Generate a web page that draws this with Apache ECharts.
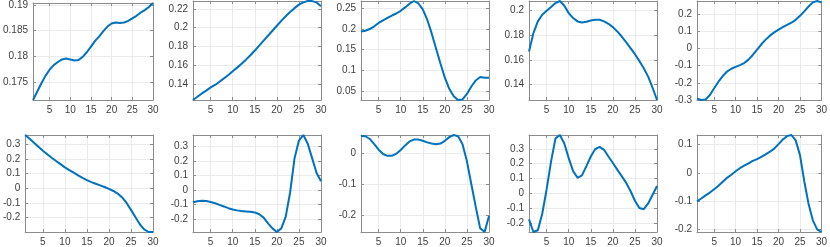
<!DOCTYPE html>
<html>
<head>
<meta charset="utf-8">
<script src="https://cdn.jsdelivr.net/npm/echarts@6/dist/echarts.min.js"></script>
<style>html,body{margin:0;padding:0;background:#fff}#c{width:830px;height:247px}</style>
</head>
<body>
<div id="c"></div>
<script>
// x positions 1..30
var xs = [];
for (var i = 1; i <= 30; i++) xs.push(i);
var xTicks = [5, 10, 15, 20, 25, 30];

var s1 = [0.1715,0.1731,0.1747,0.1762,0.1774,0.1783,0.1789,0.1794,0.1796,0.1794,0.1792,0.1793,0.1799,0.1808,0.1819,0.1830,0.1839,0.1849,0.1858,0.1864,0.1866,0.1865,0.1866,0.1869,0.1874,0.1879,0.1885,0.1890,0.1896,0.1904];
var s2 = [0.1230,0.1265,0.1300,0.1330,0.1364,0.1390,0.1425,0.1460,0.1497,0.1536,0.1575,0.1616,0.1660,0.1707,0.1757,0.1810,0.1863,0.1915,0.1968,0.2021,0.2073,0.2123,0.2168,0.2209,0.2246,0.2270,0.2285,0.2284,0.2270,0.2229];
var s3 = [0.1943,0.1959,0.2000,0.2066,0.2148,0.2210,0.2270,0.2328,0.2377,0.2443,0.2525,0.2615,0.2680,0.2620,0.2475,0.2230,0.1900,0.1530,0.1164,0.0820,0.0550,0.0370,0.0280,0.0295,0.0426,0.0607,0.0754,0.0836,0.0820,0.0820];
var s4 = [0.1668,0.1816,0.1911,0.1965,0.1997,0.2027,0.2059,0.2076,0.2038,0.1978,0.1938,0.1911,0.1903,0.1908,0.1919,0.1924,0.1924,0.1911,0.1892,0.1865,0.1830,0.1789,0.1743,0.1695,0.1646,0.1592,0.1532,0.1465,0.1375,0.1276];
var s5 = [-0.292,-0.300,-0.297,-0.271,-0.232,-0.194,-0.161,-0.135,-0.119,-0.108,-0.098,-0.086,-0.066,-0.039,-0.008,0.023,0.050,0.073,0.092,0.108,0.122,0.135,0.148,0.165,0.188,0.214,0.242,0.266,0.274,0.266];
var s6 = [0.364,0.338,0.311,0.284,0.257,0.233,0.209,0.187,0.165,0.143,0.125,0.107,0.089,0.071,0.056,0.042,0.031,0.020,0.009,-0.004,-0.018,-0.036,-0.062,-0.100,-0.147,-0.196,-0.245,-0.280,-0.298,-0.298];
var s7 = [-0.085,-0.078,-0.074,-0.076,-0.083,-0.092,-0.103,-0.114,-0.126,-0.135,-0.141,-0.146,-0.148,-0.150,-0.155,-0.168,-0.191,-0.231,-0.265,-0.290,-0.265,-0.186,-0.018,0.217,0.340,0.378,0.318,0.217,0.116,0.060];
var s8 = [0.058,0.057,0.048,0.031,0.013,-0.001,-0.007,-0.007,0.000,0.012,0.027,0.040,0.046,0.046,0.042,0.037,0.033,0.031,0.033,0.042,0.054,0.061,0.057,0.031,-0.025,-0.100,-0.174,-0.244,-0.256,-0.204];
var s9 = [-0.177,-0.262,-0.250,-0.139,0.027,0.215,0.370,0.393,0.336,0.237,0.149,0.104,0.120,0.183,0.248,0.298,0.313,0.293,0.248,0.204,0.159,0.115,0.071,0.015,-0.051,-0.100,-0.108,-0.069,-0.011,0.049];
var s10 = [-0.100,-0.090,-0.079,-0.069,-0.057,-0.045,-0.031,-0.017,-0.006,0.006,0.017,0.026,0.034,0.043,0.049,0.057,0.066,0.075,0.086,0.102,0.118,0.130,0.134,0.115,0.063,-0.029,-0.109,-0.167,-0.199,-0.208];

var yTicks1 = [0.175, 0.18, 0.185, 0.19];
var yTicks2 = [0.14, 0.16, 0.18, 0.2, 0.22];
var yTicks3 = [0.05, 0.1, 0.15, 0.2, 0.25];
var yTicks4 = [0.14, 0.16, 0.18, 0.2];
var yTicks5 = [-0.3, -0.2, -0.1, 0, 0.1, 0.2];
var yTicks6 = [-0.2, -0.1, 0, 0.1, 0.2, 0.3];
var yTicks7 = [-0.2, -0.1, 0, 0.1, 0.2, 0.3];
var yTicks8 = [-0.2, -0.1, 0];
var yTicks9 = [-0.2, -0.1, 0, 0.1, 0.2, 0.3];
var yTicks10 = [-0.2, -0.1, 0, 0.1];

var series = [s1, s2, s3, s4, s5, s6, s7, s8, s9, s10];
var yTicks = [yTicks1, yTicks2, yTicks3, yTicks4, yTicks5, yTicks6, yTicks7, yTicks8, yTicks9, yTicks10];

var lefts = [25, 193, 361, 529, 697];
var tops = [1, 135];
var W = 128, H = 99;
var boxColor = '#8c8c8c';
var gridColor = '#ebebeb';
var textColor = '#404040';
var font = 'Liberation Sans, Arial, sans-serif';

var grids = [], xAxes = [], yAxes = [], ser = [];
for (var k = 0; k < 10; k++) {
  var r = Math.floor(k / 5), c = k % 5;
  grids.push({left: lefts[c], top: tops[r], width: W, height: H, containLabel: false});
  var data = xs.map(function (x, j) { return [x, series[k][j]]; });
  var ymin = Math.min.apply(null, series[k]);
  var ymax = Math.max.apply(null, series[k]);
  // bottom x
  xAxes.push({
    type: 'value', gridIndex: k, min: 1, max: 30, position: 'bottom',
    axisLine: {show: true, onZero: false, lineStyle: {color: boxColor, width: 1}},
    axisTick: {show: true, inside: true, length: 3, customValues: xTicks, lineStyle: {color: boxColor}},
    axisLabel: {show: true, customValues: xTicks, margin: 5, color: textColor, fontSize: 10, fontFamily: font},
    splitLine: {show: true, lineStyle: {color: gridColor, width: 1}}
  });
  // top x (mirror ticks)
  xAxes.push({
    type: 'value', gridIndex: k, min: 1, max: 30, position: 'top',
    axisLine: {show: true, onZero: false, lineStyle: {color: boxColor, width: 1}},
    axisTick: {show: true, inside: true, length: 3, customValues: xTicks, lineStyle: {color: boxColor}},
    axisLabel: {show: false, customValues: xTicks},
    splitLine: {show: false}
  });
  yAxes.push({
    type: 'value', gridIndex: k, min: ymin, max: ymax, position: 'left',
    axisLine: {show: true, onZero: false, lineStyle: {color: boxColor, width: 1}},
    axisTick: {show: true, inside: true, length: 3, customValues: yTicks[k], lineStyle: {color: boxColor}},
    axisLabel: {show: true, customValues: yTicks[k], margin: 5, color: textColor, fontSize: 10, fontFamily: font,
      formatter: function (v) { return String(v); }},
    splitLine: {show: true, lineStyle: {color: gridColor, width: 1}}
  });
  yAxes.push({
    type: 'value', gridIndex: k, min: ymin, max: ymax, position: 'right',
    axisLine: {show: true, onZero: false, lineStyle: {color: boxColor, width: 1}},
    axisTick: {show: true, inside: true, length: 3, customValues: yTicks[k], lineStyle: {color: boxColor}},
    axisLabel: {show: false, customValues: yTicks[k]},
    splitLine: {show: false}
  });
  ser.push({
    type: 'line', xAxisIndex: 2 * k, yAxisIndex: 2 * k, data: data,
    showSymbol: false, symbol: 'none', smooth: false, clip: false,
    lineStyle: {color: '#0072BD', width: 2}, animation: false
  });
}

var chart = echarts.init(document.getElementById('c'), null, {renderer: 'canvas'});
chart.setOption({
  animation: false,
  backgroundColor: '#ffffff',
  grid: grids,
  xAxis: xAxes,
  yAxis: yAxes,
  series: ser
});
</script>
</body>
</html>
